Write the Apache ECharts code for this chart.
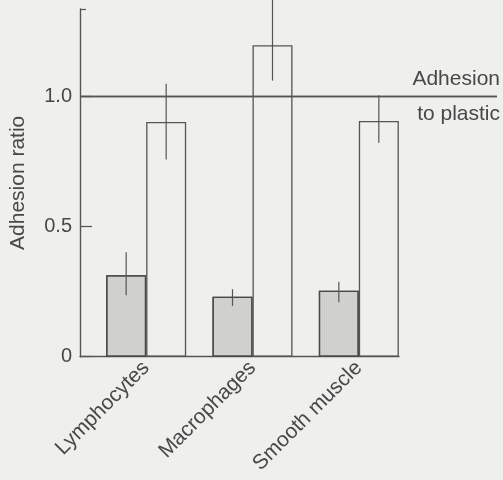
<!DOCTYPE html>
<html>
<head>
<meta charset="utf-8">
<script src="https://cdn.jsdelivr.net/npm/echarts@6/dist/echarts.min.js"></script>
<style>
html,body{margin:0;padding:0;background:#efefed;}
#c{width:503px;height:480px;}
</style>
</head>
<body>
<div id="c"></div>
<script>
// ---- data ----
const categories = ['Lymphocytes', 'Macrophages', 'Smooth muscle'];
const grayMeans  = [0.313, 0.230, 0.253];
const grayLow    = [0.236, 0.195, 0.209];
const grayHigh   = [0.401, 0.259, 0.288];
const whiteMeans = [0.901, 1.196, 0.905];
const whiteLow   = [0.757, 1.060, 0.821];
const whiteHigh  = [1.048, 1.400, 1.004];
const yTicks     = [0, 0.5, 1.0];
const yTickLabels = ['0', '0.5', '1.0'];
const refValue   = 1.0;
const refLabelTop = 'Adhesion';
const refLabelBottom = 'to plastic';
const yName = 'Adhesion ratio';

const FONT = "'Liberation Sans', Arial, Helvetica, sans-serif";
const TXT = '#484848';
const LINE = '#555555';
const YMAX = 1.335;

const chart = echarts.init(document.getElementById('c'), null, {renderer: 'canvas'});

function errSeries(low, high, offset, name) {
  return {
    type: 'custom', name: name, xAxisIndex: 1, yAxisIndex: 1, clip: false, z: 5,
    data: low.map((l, i) => [i, l, high[i]]),
    renderItem: function (params, api) {
      const a = api.coord([api.value(0), api.value(1)]);
      const b = api.coord([api.value(0), api.value(2)]);
      return {
        type: 'line',
        shape: {x1: a[0] + offset, y1: a[1], x2: b[0] + offset, y2: b[1]},
        style: {stroke: LINE, lineWidth: 1.2}
      };
    }
  };
}

const option = {
  backgroundColor: '#efefed',
  animation: false,
  grid: [
    {left: 80, width: 319, top: 9, bottom: 123.3},
    {left: 93, width: 319, top: 9, bottom: 123.3},
    {left: 80, right: 6, top: 9, bottom: 123.3}
  ],
  xAxis: [
    {gridIndex: 0, type: 'value', min: 0, max: 1,
     axisLine: {show: true, lineStyle: {color: LINE, width: 1.4}},
     axisTick: {show: false}, axisLabel: {show: false}, splitLine: {show: false}},
    {gridIndex: 1, type: 'category', data: categories,
     axisLine: {show: false}, axisTick: {show: false}, splitLine: {show: false},
     axisLabel: {rotate: 45, margin: 8, color: TXT, fontSize: 21, fontFamily: FONT}},
    {gridIndex: 2, type: 'value', min: 0, max: 1, show: false}
  ],
  yAxis: [
    {gridIndex: 0, type: 'value', position: 'left', min: 0, max: YMAX, interval: 0.5,
     name: yName, nameLocation: 'middle', nameGap: 51,
     nameTextStyle: {color: TXT, fontSize: 21, fontFamily: FONT},
     axisLine: {show: true, lineStyle: {color: LINE, width: 1.4}},
     axisTick: {show: true, inside: true, length: 12, lineStyle: {color: LINE, width: 1.2},
       customValues: yTicks},
     axisLabel: {color: TXT, fontSize: 20, fontFamily: FONT, margin: 8,
       customValues: yTicks,
       formatter: function (v) { const i = yTicks.indexOf(v); return i >= 0 ? yTickLabels[i] : ''; }},
     splitLine: {show: false}},
    {gridIndex: 1, type: 'value', min: 0, max: YMAX, show: false},
    {gridIndex: 2, type: 'value', min: 0, max: YMAX, show: false},
    {gridIndex: 0, type: 'value', position: 'left', min: 0, max: YMAX,
     axisLine: {show: false}, axisLabel: {show: false}, splitLine: {show: false},
     axisTick: {show: true, inside: true, length: 6, lineStyle: {color: LINE, width: 1.2},
       customValues: [YMAX]}}
  ],
  series: [
    {
      type: 'bar', name: 'gray', xAxisIndex: 1, yAxisIndex: 1,
      data: grayMeans, barWidth: 40, barGap: '0%',
      itemStyle: {color: '#d2d2d0', borderColor: '#4a4a4a', borderWidth: 1.3,
        decal: {symbol: 'rect', symbolSize: 0.6, dashArrayX: [1, 1], dashArrayY: [1, 1], color: 'rgba(120,120,120,0.25)'}}
    },
    {
      type: 'bar', name: 'white', xAxisIndex: 1, yAxisIndex: 1,
      data: whiteMeans, barWidth: 40, barGap: '0%',
      itemStyle: {color: 'rgba(0,0,0,0)', borderColor: LINE, borderWidth: 1.3}
    },
    errSeries(grayLow, grayHigh, -20, 'grayErr'),
    errSeries(whiteLow, whiteHigh, 20, 'whiteErr'),
    {
      type: 'line', xAxisIndex: 2, yAxisIndex: 2, data: [], silent: true,
      markLine: {
        symbol: 'none', silent: true,
        lineStyle: {color: LINE, width: 1.3, type: 'solid'},
        data: [
          {yAxis: refValue, label: {show: true, position: 'insideEndTop', formatter: refLabelTop,
            color: TXT, fontSize: 21, fontFamily: FONT, distance: [-3, 7]}},
          {yAxis: refValue, label: {show: true, position: 'insideEndBottom', formatter: refLabelBottom,
            color: TXT, fontSize: 21, fontFamily: FONT, distance: [-3, 7]}}
        ]
      }
    }
  ]
};
chart.setOption(option);
</script>
</body>
</html>
